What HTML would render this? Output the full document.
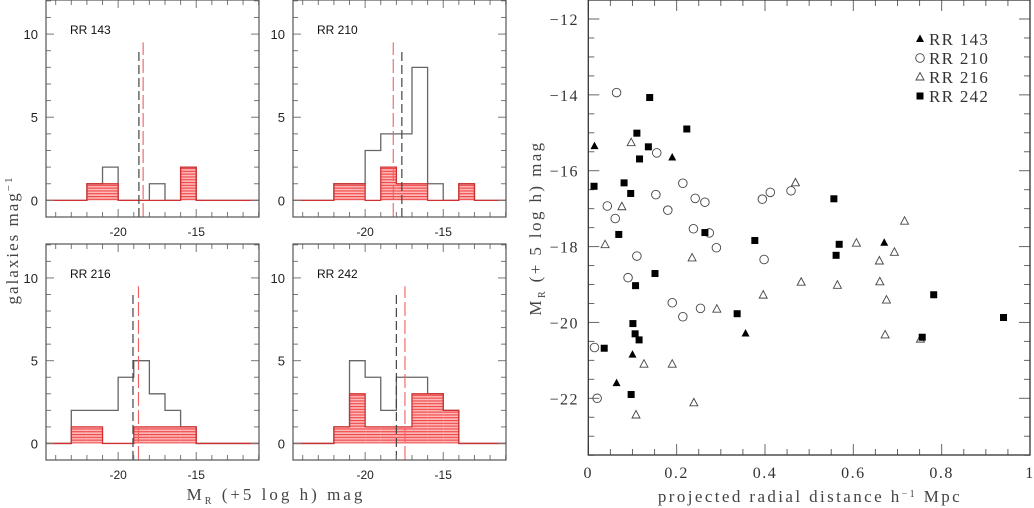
<!DOCTYPE html>
<html><head><meta charset="utf-8"><style>
html,body{margin:0;padding:0;background:#fff;}
svg{display:block;}
text{font-family:"Liberation Sans",sans-serif;}
.serif{font-family:"Liberation Serif",serif;}
</style></head><body>
<svg id="fig" width="1034" height="508" viewBox="0 0 1034 508" xmlns="http://www.w3.org/2000/svg">
<defs>
<pattern id="hatch" patternUnits="userSpaceOnUse" width="8" height="2.8">
<rect width="8" height="2.8" fill="#ffb8b8"/>
<rect y="0" width="8" height="1.1" fill="#ee4444"/>
</pattern>
</defs>
<g id="left"></g>
<g id="right"></g>
<text class="serif" x="0" y="0" transform="translate(18,240) rotate(-90)" text-anchor="middle" font-size="17" letter-spacing="2" fill="#444">galaxies mag<tspan baseline-shift="super" font-size="11">−1</tspan></text>
<text class="serif" x="276" y="500" text-anchor="middle" font-size="17" letter-spacing="3" fill="#444">M<tspan font-size="10" dy="4">R</tspan><tspan dy="-4"> (+5 log h) mag</tspan></text>
<text class="serif" x="810" y="502" text-anchor="middle" font-size="17" letter-spacing="2.4" fill="#444">projected radial distance h<tspan baseline-shift="super" font-size="10">−1</tspan> Mpc</text>
<text class="serif" transform="translate(541,228) rotate(-90)" text-anchor="middle" font-size="17" letter-spacing="2.4" fill="#444">M<tspan font-size="10" dy="4">R</tspan><tspan dy="-4"> (+ 5 log h) mag</tspan></text>
</svg>
<script>
// ---------- histogram data ----------
const histNames = ["RR 143","RR 210","RR 216","RR 242"];
const binLo = -24, binHi = -11;
// counts per 1-mag bin, starting at bin [-24,-23]
const totalRR143 = [0,0,1,2,0,0,1,0,2,0,0,0,0];
const redRR143   = [0,0,1,1,0,0,0,0,2,0,0,0,0];
const totalRR210 = [0,0,1,1,3,4,4,8,1,0,1,0,0];
const redRR210   = [0,0,1,1,0,2,1,1,0,0,1,0,0];
const totalRR216 = [0,2,2,2,4,5,3,2,1,0,0,0,0];
const redRR216   = [0,1,1,0,0,1,1,1,1,0,0,0,0];
const totalRR242 = [0,0,1,5,4,2,4,4,3,2,0,0,0];
const redRR242   = [0,0,1,3,1,1,1,3,3,2,0,0,0];
const blackMedian = [-18.67,-17.65,-19.05,-18.0];
const redMedian   = [-18.4,-18.2,-18.7,-17.45];
const histYTicks = [0,5,10];
const histXTicks = [-20,-15];

// ---------- scatter data ----------
const rr143X = [0.014,0.19,0.67,0.356,0.10,0.064];
const rr143Y = [-15.35,-15.65,-17.9,-20.29,-20.85,-21.6];
const rr210X = [0.064,0.155,0.214,0.153,0.242,0.264,0.394,0.412,0.459,0.043,0.18,0.061,0.238,0.274,0.29,0.11,0.398,0.09,0.19,0.254,0.214,0.014,0.02];
const rr210Y = [-13.94,-15.53,-16.33,-16.63,-16.73,-16.83,-16.75,-16.57,-16.53,-16.93,-17.04,-17.26,-17.53,-17.64,-18.03,-18.25,-18.34,-18.82,-19.48,-19.63,-19.85,-20.66,-22.0];
const rr216X = [0.097,0.076,0.469,0.038,0.235,0.716,0.607,0.693,0.659,0.482,0.564,0.66,0.396,0.675,0.291,0.672,0.752,0.126,0.19,0.239,0.108];
const rr216Y = [-15.26,-16.95,-16.32,-17.95,-18.3,-17.33,-17.91,-18.15,-18.38,-18.94,-19.02,-18.93,-19.28,-19.41,-19.65,-20.33,-20.44,-21.1,-21.1,-22.12,-22.44];
const rr242X = [0.139,0.223,0.11,0.136,0.116,0.013,0.081,0.096,0.556,0.069,0.264,0.377,0.568,0.561,0.151,0.107,0.782,0.337,0.94,0.101,0.106,0.115,0.036,0.756,0.097];
const rr242Y = [-14.07,-14.9,-15.01,-15.37,-15.69,-16.41,-16.32,-16.6,-16.74,-17.68,-17.63,-17.84,-17.94,-18.23,-18.71,-19.03,-19.27,-19.77,-19.87,-20.03,-20.3,-20.46,-20.68,-20.39,-21.9];
const scatterXTicks = [0,0.2,0.4,0.6,0.8,1];
const scatterXLabels = ["0","0.2","0.4","0.6","0.8","1"];
const scatterYTicks = [-12,-14,-16,-18,-20,-22];
const scatterYLabels = ["−12","−14","−16","−18","−20","−22"];

const NS="http://www.w3.org/2000/svg";
function mk(tag,attrs,parent){const e=document.createElementNS(NS,tag);for(const k in attrs)e.setAttribute(k,attrs[k]);parent.appendChild(e);return e;}

// ---------- histograms ----------
const panels=[{x0:46,x1:259,y0:0,y1:217,tot:totalRR143,red:redRR143},
{x0:293,x1:506,y0:0,y1:217,tot:totalRR210,red:redRR210},
{x0:46,x1:259,y0:244,y1:460,tot:totalRR216,red:redRR216},
{x0:293,x1:506,y0:244,y1:460,tot:totalRR242,red:redRR242}];
const L=document.getElementById('left');
panels.forEach((p,i)=>{
  const g=mk('g',{},L);
  
  
  const xmin=-24.62,xmax=-10.98,ymin=-1,ymax=12.05;
  const sx=v=>p.x0+(v-xmin)/(xmax-xmin)*(p.x1-p.x0);
  const sy=v=>p.y1-(v-ymin)/(ymax-ymin)*(p.y1-p.y0);
  function step(arr){let d='M'+p.x0+','+sy(0);
    for(let b=0;b<arr.length;b++){const lo=binLo+b;d+=' L'+sx(lo)+','+sy(arr[b])+' L'+sx(lo+1)+','+sy(arr[b]);}
    d+=' L'+p.x1+','+sy(0);return d;}
  for(let b=0;b<p.red.length;b++){ if(p.red[b]>0){const lo=binLo+b;
    const r=mk('rect',{x:sx(lo),y:sy(p.red[b]),width:sx(lo+1)-sx(lo),height:sy(0)-sy(p.red[b]),fill:'url(#hatch)'},g);
    
    }}
  const t=mk('path',{d:step(p.tot),fill:'none',stroke:'#666','stroke-width':1.3},g);
  
  
  const r2=mk('path',{d:step(p.red),fill:'none',stroke:'#d03030','stroke-width':1.3},g);
  
  
  const bm=mk('line',{x1:sx(blackMedian[i]),x2:sx(blackMedian[i]),y1:p.y1,y2:sy(9),stroke:'#444','stroke-width':1.2,'stroke-dasharray':'9,4'},g);
  
  
  const rm=mk('line',{x1:sx(redMedian[i]),x2:sx(redMedian[i]),y1:p.y1,y2:sy(9.5),stroke:'#f06060','stroke-width':1.1,'stroke-dasharray':'14,4'},g);
  
  
  for(let v=-24;v<=-11;v++){const len=(v%5===0)?8:5;
    mk('line',{x1:sx(v),x2:sx(v),y1:p.y1,y2:p.y1-len,stroke:'#777'},g);
    mk('line',{x1:sx(v),x2:sx(v),y1:p.y0,y2:p.y0+len,stroke:'#777'},g);}
  for(let v=-1;v<=12;v++){const len=(v%5===0)?8:5;
    mk('line',{x1:p.x0,x2:p.x0+len,y1:sy(v),y2:sy(v),stroke:'#777'},g);
    mk('line',{x1:p.x1,x2:p.x1-len,y1:sy(v),y2:sy(v),stroke:'#777'},g);}
  const fr=mk('rect',{x:p.x0,y:p.y0,width:p.x1-p.x0,height:p.y1-p.y0,fill:'none',stroke:'#555','stroke-width':1.2},g);
  
  
  histYTicks.forEach(v=>{const tx=mk('text',{x:p.x0-8,y:sy(v)+5,'text-anchor':'end','font-size':13,fill:'#222'},g);tx.textContent=v;
    
    });
  histXTicks.forEach(v=>{const tx=mk('text',{x:sx(v),y:p.y1+19,'text-anchor':'middle','font-size':12,fill:'#222'},g);tx.textContent=v;
    
    });
  const lb=mk('text',{x:p.x0+24,y:p.y0+34,'font-size':12,fill:'#111'},g);lb.textContent=histNames[i];
  
  
});

// ---------- scatter ----------
const R=document.getElementById('right');
const X0=588.3,X1=1030,Y0=0,Y1=455;
const fx=v=>X0+v*(X1-X0);
const fy=v=>19+(-12-v)*37.93;
for(let v=0;v<=20;v++){const len=(v%4===0)?11:6;const x=fx(v*0.05);
  mk('line',{x1:x,x2:x,y1:Y1,y2:Y1-len,stroke:'#666'},R);
  mk('line',{x1:x,x2:x,y1:Y0,y2:Y0+len,stroke:'#666'},R);}
for(let k=0;k<=24;k++){const v=-11.5-k*0.5;const len=(Math.abs(v)%2===0)?11:6;const y=fy(v);
  mk('line',{x1:X0,x2:X0+len,y1:y,y2:y,stroke:'#666'},R);
  mk('line',{x1:X1,x2:X1-len,y1:y,y2:y,stroke:'#666'},R);}
const sf=mk('rect',{x:X0,y:Y0,width:X1-X0,height:Y1-Y0,fill:'none',stroke:'#333','stroke-width':1.3},R);


scatterXTicks.forEach((v,i)=>{const t=mk('text',{x:fx(v),y:478,'text-anchor':'middle','font-size':16,'letter-spacing':1.5,fill:'#333',class:'serif'},R);t.textContent=scatterXLabels[i];
  
  });
scatterYTicks.forEach((v,i)=>{const t=mk('text',{x:579,y:fy(v)+6,'text-anchor':'end','font-size':16,'letter-spacing':1.5,fill:'#333',class:'serif'},R);t.textContent=scatterYLabels[i];
  
  });
function marker(kind,x,y,parent){
  let e;
  if(kind==='ftri') e=mk('path',{d:`M${x},${y-4.5} L${x+4},${y+3} L${x-4},${y+3} Z`,fill:'#000'},parent);
  else if(kind==='otri') e=mk('path',{d:`M${x},${y-4.5} L${x+4},${y+3} L${x-4},${y+3} Z`,fill:'none',stroke:'#444','stroke-width':0.9},parent);
  else if(kind==='circ') e=mk('circle',{cx:x,cy:y,r:4.3,fill:'none',stroke:'#444','stroke-width':0.9},parent);
  else e=mk('rect',{x:x-3.5,y:y-3.5,width:7,height:7,fill:'#000'},parent);
  return e;}
const series=[['ftri',rr143X,rr143Y,'rr143'],['circ',rr210X,rr210Y,'rr210'],['otri',rr216X,rr216Y,'rr216'],['sq',rr242X,rr242Y,'rr242']];
series.forEach(s=>{const g=mk('g',{},R);
  
  
  s[1].forEach((xv,i)=>{const m=marker(s[0],fx(xv),fy(s[2][i]),g);
    
    });});
const lg=mk('g',{},R);


series.forEach((s,i)=>{const y=39+i*19;
  const m=marker(s[0],920,y,lg);
  
  
  const t=mk('text',{x:929,y:y+6,'font-size':17,'letter-spacing':1.3,fill:'#333',class:'serif'},lg);t.textContent=histNames[i];
  
  });
</script>
</body></html>
